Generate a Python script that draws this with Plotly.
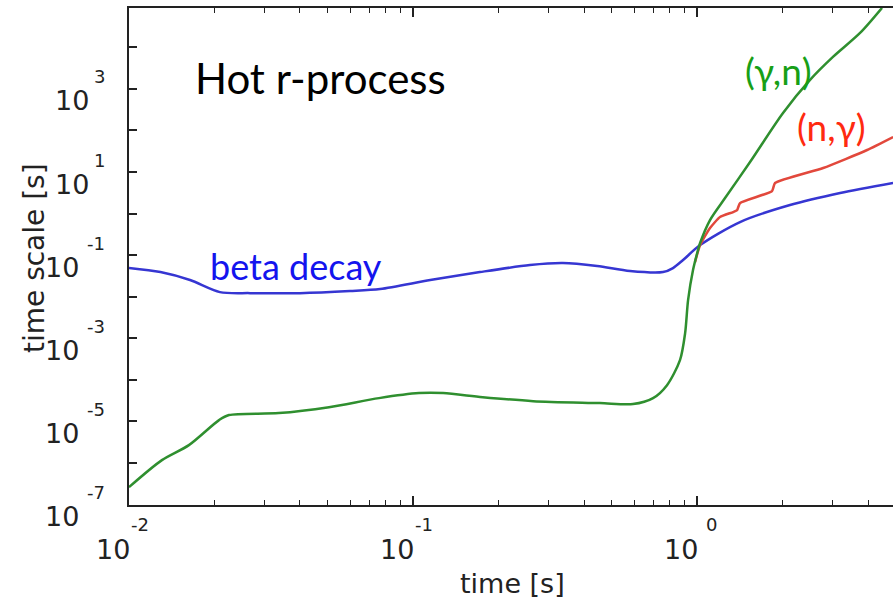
import math
import plotly.graph_objects as go

# ---- data (time [s], time scale [s]) ----
beta_time = [0.0100, 0.0129, 0.0164, 0.0209, 0.0267, 0.0400, 0.0600, 0.0766, 0.115, 0.172,
             0.258, 0.337, 0.445, 0.581, 0.759, 0.823, 0.893, 1.025, 1.417, 2.125, 3.19, 4.90]
beta_tau = [0.0486, 0.0389, 0.0250, 0.0128, 0.0121, 0.0121, 0.0136, 0.0152, 0.0250, 0.0389,
            0.0574, 0.0641, 0.0543, 0.0411, 0.0389, 0.0486, 0.0759, 0.174, 0.624, 1.60, 3.12, 5.43]

ng_time = [0.984, 1.025, 1.111, 1.205, 1.340, 1.384, 1.417, 1.837, 1.882, 2.78, 3.97, 4.90]
ng_tau = [0.0678, 0.174, 0.448, 0.824, 1.087, 1.213, 1.79, 3.48, 5.43, 12.5, 33.9, 69.7]

gn_time = [0.0100, 0.01306, 0.01625, 0.02075, 0.0225, 0.0337, 0.0506, 0.0759, 0.105, 0.1276,
           0.176, 0.265, 0.455, 0.595, 0.700, 0.784, 0.871, 0.908, 0.930, 0.968, 1.008, 1.025,
           1.111, 1.255, 1.537, 2.008, 2.50, 3.01, 3.75, 4.48]
gn_tau = [2.57e-7, 1.15e-6, 2.64e-6, 1.06e-5, 1.40e-5, 1.56e-5, 2.17e-5, 3.58e-5, 4.73e-5, 4.73e-5,
          3.78e-5, 3.03e-5, 2.72e-5, 2.57e-5, 3.58e-5, 7.36e-5, 2.95e-4, 1.32e-3, 8.24e-3, 0.0435, 0.132, 0.195,
          0.697, 2.36, 17.4, 264, 1650, 5900, 22300, 89500]

x_tick_exponents = [-2, -1, 0]
y_tick_exponents = [-7, -5, -3, -1, 1, 3]

x_range_log = [-2.0, 0.69]
y_range_log = [-7.02, 4.95]

BLUE_LINE = "#3636d2"
RED_LINE = "#e2483c"
GREEN_LINE = "#2f8f2f"
AX = "#222222"
TICKFONT = dict(family="DejaVu Sans", size=27, color="#222222")
SUPFONT = dict(family="DejaVu Sans", size=18, color="#222222")

fig = go.Figure()
fig.add_trace(go.Scatter(x=beta_time, y=beta_tau, mode="lines",
                         line=dict(color=BLUE_LINE, width=2.5, shape="spline", smoothing=0.8),
                         showlegend=False, hoverinfo="skip"))
fig.add_trace(go.Scatter(x=ng_time, y=ng_tau, mode="lines",
                         line=dict(color=RED_LINE, width=2.5, shape="spline", smoothing=0.5),
                         showlegend=False, hoverinfo="skip"))
fig.add_trace(go.Scatter(x=gn_time, y=gn_tau, mode="lines",
                         line=dict(color=GREEN_LINE, width=2.5, shape="spline", smoothing=0.8),
                         showlegend=False, hoverinfo="skip"))

annotations = []
# x tick labels: "10" left of tick, exponent raised to the right
for e in x_tick_exponents:
    annotations.append(dict(x=e, y=0, xref="x", yref="paper", text="10", showarrow=False,
                            xanchor="right", yanchor="middle", xshift=3, yshift=-44,
                            font=TICKFONT))
    annotations.append(dict(x=e, y=0, xref="x", yref="paper", text=str(e), showarrow=False,
                            xanchor="right", yanchor="middle", xshift=22, yshift=-19,
                            font=SUPFONT))
# y tick labels
for e in y_tick_exponents:
    s = str(e)
    annotations.append(dict(x=0, y=e, xref="paper", yref="y", text=s, showarrow=False,
                            xanchor="right", yanchor="middle", xshift=-22, yshift=12,
                            font=SUPFONT))
    annotations.append(dict(x=0, y=e, xref="paper", yref="y", text="10", showarrow=False,
                            xanchor="right", yanchor="middle", xshift=-22 - (len(s) * 10 + 6),
                            yshift=-12, font=TICKFONT))

# axis titles
annotations.append(dict(x=0.5026, y=-0.157, xref="paper", yref="paper", text="time [s]",
                        showarrow=False, xanchor="center", yanchor="middle",
                        font=dict(family="DejaVu Sans", size=27, color="#222222")))
annotations.append(dict(x=-0.123, y=0.497, xref="paper", yref="paper", text="time scale [s]",
                        showarrow=False, xanchor="center", yanchor="middle", textangle=-90,
                        font=dict(family="DejaVu Sans", size=28, color="#222222")))

# in-plot labels
annotations.append(dict(x=(193 - 129) / 764, y=(505 - 78) / 497, xref="paper", yref="paper",
                        text="Hot r-process", showarrow=False, xanchor="left", yanchor="middle",
                        font=dict(family="Lato", size=42, color="#000000")))
annotations.append(dict(x=(208 - 129) / 764, y=(505 - 266) / 497, xref="paper", yref="paper",
                        text="beta decay", showarrow=False, xanchor="left", yanchor="middle",
                        font=dict(family="Lato", size=36, color="#1414ee")))
annotations.append(dict(x=(743 - 129) / 764, y=(505 - 70) / 497, xref="paper", yref="paper",
                        text="(γ,n)", showarrow=False, xanchor="left", yanchor="middle",
                        font=dict(family="Lato", size=37, color="#179f17")))
annotations.append(dict(x=(795 - 129) / 764, y=(505 - 126) / 497, xref="paper", yref="paper",
                        text="(n,γ)", showarrow=False, xanchor="left", yanchor="middle",
                        font=dict(family="Lato", size=37, color="#ff2a10")))

fig.update_layout(
    width=893, height=603,
    margin=dict(l=129, r=0, t=8, b=98),
    paper_bgcolor="white", plot_bgcolor="white",
    showlegend=False,
    annotations=annotations,
    xaxis=dict(type="log", range=x_range_log, showgrid=False, zeroline=False,
               showline=True, linecolor=AX, linewidth=2, mirror="ticks",
               ticks="inside", ticklen=9, tickwidth=1.5, tickcolor=AX, dtick=1,
               showticklabels=False,
               minor=dict(ticks="inside", ticklen=5, tickwidth=1.2, tickcolor=AX,
                          dtick="D1", showgrid=False)),
    yaxis=dict(type="log", range=y_range_log, showgrid=False, zeroline=False,
               showline=True, linecolor=AX, linewidth=2, mirror=False,
               ticks="inside", ticklen=8, tickwidth=1.5, tickcolor=AX, dtick=1,
               showticklabels=False),
)

fig.write_html(
    "out.html",
    config={"displayModeBar": False},
    post_script="document.body.style.margin='0';document.body.style.overflow='hidden';"
                "document.documentElement.style.overflow='hidden';",
)
